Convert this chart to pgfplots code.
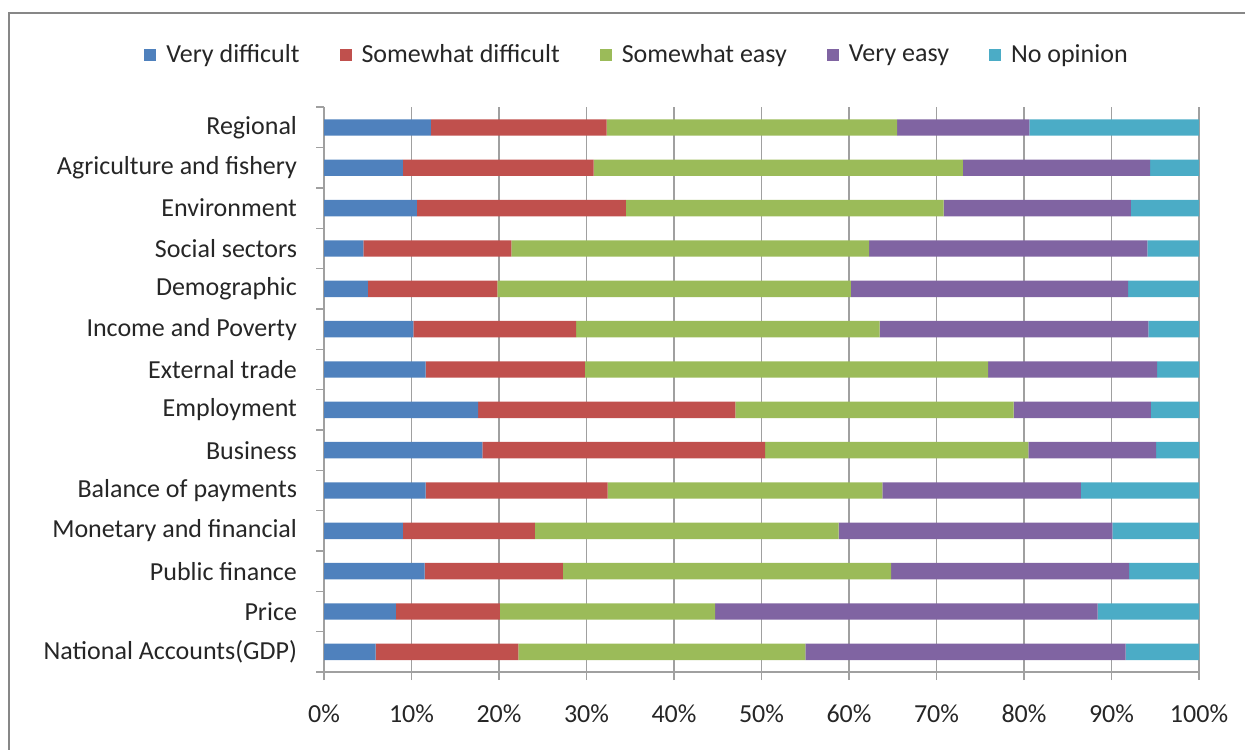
\documentclass[border=0pt]{standalone}
\usepackage{pgfplots}
\pgfplotsset{compat=1.18}
\usepackage{pgfplotstable}
\usepackage{fontspec}
\setmainfont{Carlito}

\definecolor{cVD}{HTML}{4F81BD}
\definecolor{cSD}{HTML}{C0504D}
\definecolor{cSE}{HTML}{9BBB59}
\definecolor{cVE}{HTML}{8064A2}
\definecolor{cNO}{HTML}{4BACC6}
\definecolor{gridgray}{HTML}{A0A0A0}
\definecolor{framegray}{HTML}{878787}

% y = 0 is the bottom row (National Accounts), 13 the top (Regional)
\pgfplotstableread{
y   vd    sd    se    ve    no
0   5.9   16.3  32.8  36.6  8.4
1   8.2   11.9  24.6  43.7  11.6
2   11.5  15.8  37.5  27.2  8.0
3   9.0   15.1  34.7  31.3  9.9
4   11.6  20.8  31.4  22.7  13.5
5   18.1  32.3  30.1  14.6  4.9
6   17.6  29.4  31.8  15.7  5.5
7   11.6  18.2  46.1  19.3  4.8
8   10.2  18.6  34.7  30.7  5.8
9   5.0   14.8  40.4  31.7  8.1
10  4.5   16.9  40.9  31.8  5.9
11  10.6  23.9  36.3  21.4  7.8
12  9.0   21.8  42.2  21.4  5.6
13  12.2  20.1  33.2  15.1  19.4
}\survey

\begin{document}
\fontsize{13}{15.6}\selectfont
\begin{tikzpicture}
\path[use as bounding box] (0,0) rectangle (622.5pt,374.5pt);
\draw[framegray, line width=1pt] (4.5pt,-2pt) -- (4.5pt,367.75pt) -- (624pt,367.75pt);
\begin{axis}[
  at={(162pt,38.5pt)}, anchor=south west,
  scale only axis,
  width=437.5pt, height=282.35pt,
  xbar stacked,
  bar width=8.2pt,
  xmin=0, xmax=100,
  ymin=-0.5, ymax=13.5,
  axis x line*=bottom,
  axis y line*=left,
  axis line style={gridgray, line width=0.8pt, -},
  xtick={0,10,...,100},
  xticklabel={\pgfmathprintnumber{\tick}\%},
  /pgf/number format/assume math mode=true,
  xmajorgrids,
  major grid style={gridgray, line width=0.8pt},
  tick align=outside,
  major tick length=4pt,
  minor tick length=4pt,
  x tick style={gridgray, line width=0.8pt},
  major y tick style={draw=none},
  minor y tick style={gridgray, line width=0.8pt},
  ytick={0,...,13},
  minor ytick={-0.5,0.5,...,13.5},
  yticklabels={National Accounts(GDP),Price,Public finance,Monetary and financial,Balance of payments,Business,Employment,External trade,Income and Poverty,Demographic,Social sectors,Environment,Agriculture and fishery,Regional},
  yticklabel style={xshift=-5pt, font=\fontsize{13}{15.6}\selectfont, text=black!85},
  xticklabel style={yshift=-8pt, font=\fontsize{13}{15.6}\selectfont, text=black!85},
  legend columns=5,
  legend style={at={(0.3589,1.092)}, anchor=center, draw=none, fill=none,
    font=\fontsize{13}{15.6}\selectfont, text=black!85,
    /tikz/every odd column/.append style={column sep=3pt},
    /tikz/every even column/.append style={column sep=18pt}},
  legend image code/.code={\fill[#1] (0pt,-3pt) rectangle (6pt,3pt);},
]
\addplot[fill=cVD, draw=none] table[x=vd, y=y] {\survey};
\addplot[fill=cSD, draw=none] table[x=sd, y=y] {\survey};
\addplot[fill=cSE, draw=none] table[x=se, y=y] {\survey};
\addplot[fill=cVE, draw=none] table[x=ve, y=y] {\survey};
\addplot[fill=cNO, draw=none] table[x=no, y=y] {\survey};
\legend{Very difficult, Somewhat difficult, Somewhat easy, Very easy, No opinion}
\end{axis}
\end{tikzpicture}
\end{document}
